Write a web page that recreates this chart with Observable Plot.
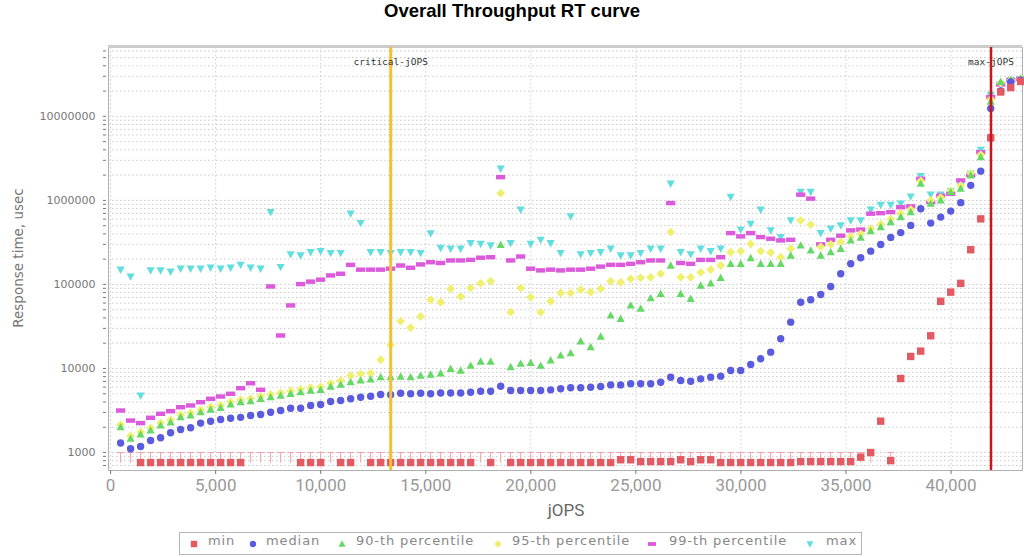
<!DOCTYPE html>
<html><head><meta charset="utf-8">
<script src="https://cdn.jsdelivr.net/npm/d3@7"></script>
<script src="https://cdn.jsdelivr.net/npm/@observablehq/plot@0.6"></script>
<style>
html,body{margin:0;padding:0;background:#fff;}
body{width:1024px;height:557px;overflow:hidden;position:relative;font-family:"DejaVu Sans",sans-serif;}
#title{position:absolute;left:0;top:0;width:1024px;height:40px;line-height:40px;text-align:center;font:bold 18.5px "Liberation Sans",Arial,sans-serif;color:#000;}
#chart{position:absolute;top:40px;left:0;}
#ylabel{position:absolute;left:18px;top:258px;transform:translate(-50%,-50%) rotate(-90deg);white-space:nowrap;font:13.5px "DejaVu Sans",sans-serif;color:#777;}
#xlabel{position:absolute;left:566px;top:510px;transform:translate(-50%,-50%);font:17px Roboto,sans-serif;color:#666;}
#legend{position:absolute;left:179px;top:532px;width:683px;height:23px;border:1px solid #b5b5b5;box-sizing:border-box;background:#fff;}
.li{position:absolute;top:0;height:21px;line-height:21px;font:13px "DejaVu Sans",sans-serif;letter-spacing:0.9px;color:#888;white-space:nowrap;}
.lm{position:absolute;top:6px;}
</style></head>
<body>
<div id="title">Overall Throughput RT curve</div>
<div id="chart"></div>
<div id="ylabel">Response time, usec</div>
<div id="xlabel">jOPS</div>
<div id="legend"></div>
<script>
// ---- data ----
const jops = [476,952,1428,1904,2380,2856,3332,3808,4284,4760,5236,5712,6188,6664,7140,7616,8092,8568,9044,9520,
  9996,10472,10948,11424,11900,12376,12852,13328,13804,14280,14756,15232,15708,16184,16660,17136,17612,18088,18564,19040,
  19516,19992,20468,20944,21420,21896,22372,22848,23324,23800,24276,24752,25228,25704,26180,26656,27132,27608,28084,28560,
  29036,29512,29988,30464,30940,31416,31892,32368,32844,33320,33796,34272,34748,35224,35700,36176,36652,37128,37604,38080,
  38556,39032,39508,39984,40460,40936,41412,41888,42364,42840,43316];

const minVals = [null,null,760,760,760,760,760,760,760,760,760,760,760,null,null,null,null,null,760,760,
  760,null,760,760,null,760,760,760,760,760,760,760,760,760,760,760,null,760,null,760,
  760,760,760,760,760,760,760,760,760,760,820,820,780,780,780,780,820,780,820,820,
  760,760,760,760,760,760,760,760,780,780,780,780,780,780,880,1000,2360,800,7600,13900,
  16100,24500,63000,81000,103000,259000,603000,5570000,19500000,22000000,26000000];

const medianVals = [1300,1110,1180,1390,1500,1720,1880,1970,2240,2360,2470,2560,2620,2760,2830,3020,3160,3370,3370,3630,
  3730,4050,4160,4360,4550,4670,4900,4870,5080,5000,5080,5000,5100,5100,5100,5220,5360,5360,6150,5470,
  5470,5470,5470,5570,5740,5900,5900,5990,6100,6380,6380,6570,6570,6570,6870,7870,7200,7060,7530,7870,
  8100,9460,9460,11170,13030,15640,22600,35600,61500,65700,76000,94600,134000,176000,208000,249000,299000,363000,414000,504000,
  796000,537000,633000,746000,940000,1510000,2230000,12400000,20000000,25700000,27000000];

const p90Vals = [2000,1460,1640,1830,2100,2290,2630,2760,3020,3250,3400,3730,3970,4080,4360,4550,4760,5000,5220,5470,
  5570,6100,6450,6870,7200,7400,7870,7870,8030,7870,8250,8470,8780,9900,9460,10800,12100,12100,296000,10400,
  11400,11700,10800,12500,14300,15200,21100,18000,24000,42800,39000,56300,51500,68700,77400,168000,77400,67500,97000,103000,
  120000,176000,176000,206000,176000,176000,176000,221000,291000,254000,221000,242000,266000,334000,360000,430000,481000,552000,633000,726000,
  1580000,915000,1000000,1260000,1380000,1990000,3280000,15000000,25700000,27000000,28000000];

const p95Vals = [2150,1570,1760,1960,2250,2450,2800,2950,3230,3480,3650,3990,4250,4380,4680,4900,5130,5400,5650,5900,
  6050,6650,7200,8200,8600,8800,12700,19100,36600,30500,41500,65700,61500,88600,72000,91000,103000,109000,1220000,46800,
  91000,70500,46800,63000,79000,79000,86500,81000,88600,109000,106000,117000,120000,122000,134000,420000,122000,122000,139000,150000,
  168000,242000,249000,303000,249000,240000,211000,266000,578000,515000,280000,300000,320000,370000,400000,460000,520000,600000,700000,780000,
  1700000,1000000,1080000,1300000,1500000,2100000,3500000,16000000,25000000,27000000,28000000];

const p99Vals = [3160,2400,2240,2590,2890,3100,3460,3630,3970,4360,4640,5000,5830,6680,5570,94600,24700,56300,101000,108000,
  114000,128000,134000,171000,150000,150000,150000,154000,168000,158000,173000,184000,180000,193000,193000,196000,208000,211000,1890000,193000,
  215000,154000,147000,150000,147000,150000,150000,154000,163000,171000,171000,176000,184000,193000,193000,930000,180000,176000,196000,196000,
  211000,408000,373000,408000,366000,350000,334000,340000,1170000,1050000,300000,340000,380000,440000,450000,695000,705000,726000,830000,850000,
  1810000,955000,1140000,1200000,1730000,2000000,3750000,17000000,24000000,27000000,28000000];

const maxVals = [150000,124000,4760,147000,147000,142000,154000,154000,154000,158000,154000,158000,171000,158000,154000,726000,161000,228000,221000,242000,
  249000,236000,236000,695000,537000,242000,242000,236000,242000,242000,236000,405000,272000,266000,266000,310000,303000,291000,2380000,310000,
  774000,303000,340000,310000,236000,646000,228000,236000,242000,266000,221000,221000,236000,266000,266000,1580000,242000,228000,266000,249000,
  266000,1100000,450000,526000,774000,440000,366000,578000,1260000,1260000,408000,460000,504000,578000,578000,774000,884000,884000,915000,1110000,
  1940000,1170000,1170000,1290000,1500000,2080000,4000000,18000000,24000000,27000000,28000000];

const criticalJops = 13330;
const maxJops = 41900;
const xTicks = [0,5000,10000,15000,20000,25000,30000,35000,40000];
const yTicks = [1000,10000,100000,1000000,10000000];

// ---- symbols ----
const sym = f => ({draw(ctx, size){ const r = Math.sqrt(size/Math.PI); f(ctx, r); }});
const sqSym = sym((c,r)=>{c.rect(-r,-r,2*r,2*r);});
const circSym = sym((c,r)=>{c.moveTo(r,0);c.arc(0,0,r,0,2*Math.PI);});
const triUp = sym((c,r)=>{c.moveTo(0,-r*1.15);c.lineTo(r*1.1,r*0.85);c.lineTo(-r*1.1,r*0.85);c.closePath();});
const diam = sym((c,r)=>{c.moveTo(0,-r*1.2);c.lineTo(r*1.2,0);c.lineTo(0,r*1.2);c.lineTo(-r*1.2,0);c.closePath();});
const hRect = sym((c,r)=>{c.rect(-r*1.25,-r*0.6,r*2.5,r*1.2);});
const triDown = sym((c,r)=>{c.moveTo(-r*1.1,-r*0.85);c.lineTo(r*1.1,-r*0.85);c.lineTo(0,r*1.15);c.closePath();});
const tCap = sym((c,r)=>{c.moveTo(-r,0);c.lineTo(r,0);c.moveTo(0,0);c.lineTo(0,r*3);});

const series = [
  {name:"min", vals:minVals, color:"#e45a63", symbol:sqSym},
  {name:"median", vals:medianVals, color:"#5b5be0", symbol:circSym},
  {name:"90-th percentile", vals:p90Vals, color:"#66d866", symbol:triUp},
  {name:"95-th percentile", vals:p95Vals, color:"#f0f070", symbol:diam},
  {name:"99-th percentile", vals:p99Vals, color:"#dc5adc", symbol:hRect},
  {name:"max", vals:maxVals, color:"#62dede", symbol:triDown}
];

// grid values (log minor grid)
const yGrid = [];
for (let e = 2; e <= 7; e++) for (let m = 1; m <= 9; m++) { const v = m * 10 ** e; if (v >= 611 && v <= 6.6e7) yGrid.push(v); }

// T-caps drawn at every point whose min is at/under the axis floor region
const capData = jops.map((x,i)=>({x, v:minVals[i]})).filter((d,i)=> i < 78 && (d.v === null || d.v <= 1000));

const dotMarks = series.slice().reverse().map(s =>
  Plot.dot(jops.map((x,i)=>({x, y:s.vals[i]})).filter(d=>d.y != null),
    {x:"x", y:"y", symbol:()=>s.symbol, r:3.7, fill:s.color, stroke:"none"})
);

const chart = Plot.plot({
  width: 1024, height: 487,
  marginLeft: 108, marginRight: 2, marginTop: 7, marginBottom: 57,
  x: {domain: [-100, 43400]},
  y: {type: "log", domain: [611, 6.6e7]},
  symbol: {type: "identity"},
  style: {background: "white", fontFamily: "DejaVu Sans", fontSize: "11px", color: "#777", overflow: "visible"},
  marks: [
    Plot.ruleY(yGrid, {stroke: "#c9c9c9", strokeDasharray: "1.5,2.5", strokeWidth: 1}),
    Plot.ruleX(xTicks, {stroke: "#cfcfcf", strokeDasharray: "1.5,2.5", strokeWidth: 1}),
    Plot.frame({stroke: "#b0b0b0"}),
    Plot.ruleY([6.6e7], {stroke: "#cccccc", strokeWidth: 3, dy: -1}),
    Plot.dot(capData, {x: "x", y: () => 1000, symbol: () => tCap, r: 3.4, stroke: "#f0a3a8", fill: "none", strokeWidth: 1}),
    ...dotMarks,
    Plot.ruleX([criticalJops], {stroke: "#f3c135", strokeWidth: 3}),
    Plot.ruleX([maxJops], {stroke: "#c8161e", strokeWidth: 2.5}),
    Plot.text(["critical-jOPS"], {x: () => criticalJops, frameAnchor: "top", dy: 11, text: d => d, fontSize: 9.5, fontFamily: "DejaVu Sans Mono", fill: "#333"}),
    Plot.text(["max-jOPS"], {x: () => maxJops, frameAnchor: "top", dy: 11, text: d => d, fontSize: 9.5, fontFamily: "DejaVu Sans Mono", fill: "#333"}),
    Plot.axisY({ticks: yGrid, tickFormat: () => "", tickSize: 3, anchor: "left", dx: -2, label: null}),
    Plot.axisY({ticks: yTicks, tickFormat: d => String(d), tickSize: 0, tickPadding: 13, anchor: "left", label: null, fontSize: 11, fill: "#777"}),
    Plot.axisX({ticks: xTicks, tickFormat: d3.format(","), tickSize: 4, tickPadding: 4, anchor: "bottom", label: null, fontSize: 17, fontFamily: "Roboto", fill: "#999"})
  ]
});
document.getElementById("chart").appendChild(chart);

// ---- legend ----
const legendPos = [[14,28],[73,86],[162,176],[318,332],[472,489],[630,646]];
const leg = document.getElementById("legend");
series.forEach((s,i)=>{
  const [mx, tx] = legendPos[i];
  const m = document.createElementNS("http://www.w3.org/2000/svg","svg");
  m.setAttribute("width","10"); m.setAttribute("height","10");
  m.setAttribute("class","lm"); m.style.left = (mx-5)+"px";
  const p = document.createElementNS("http://www.w3.org/2000/svg","path");
  const ctx = d3.path(); s.symbol.draw(ctx, Math.PI*3.2*3.2);
  p.setAttribute("d", ctx.toString()); p.setAttribute("transform","translate(5,5)");
  p.setAttribute("fill", s.color);
  m.appendChild(p); leg.appendChild(m);
  const t = document.createElement("div"); t.className = "li"; t.style.left = tx+"px"; t.textContent = s.name;
  leg.appendChild(t);
});
</script>
</body></html>
